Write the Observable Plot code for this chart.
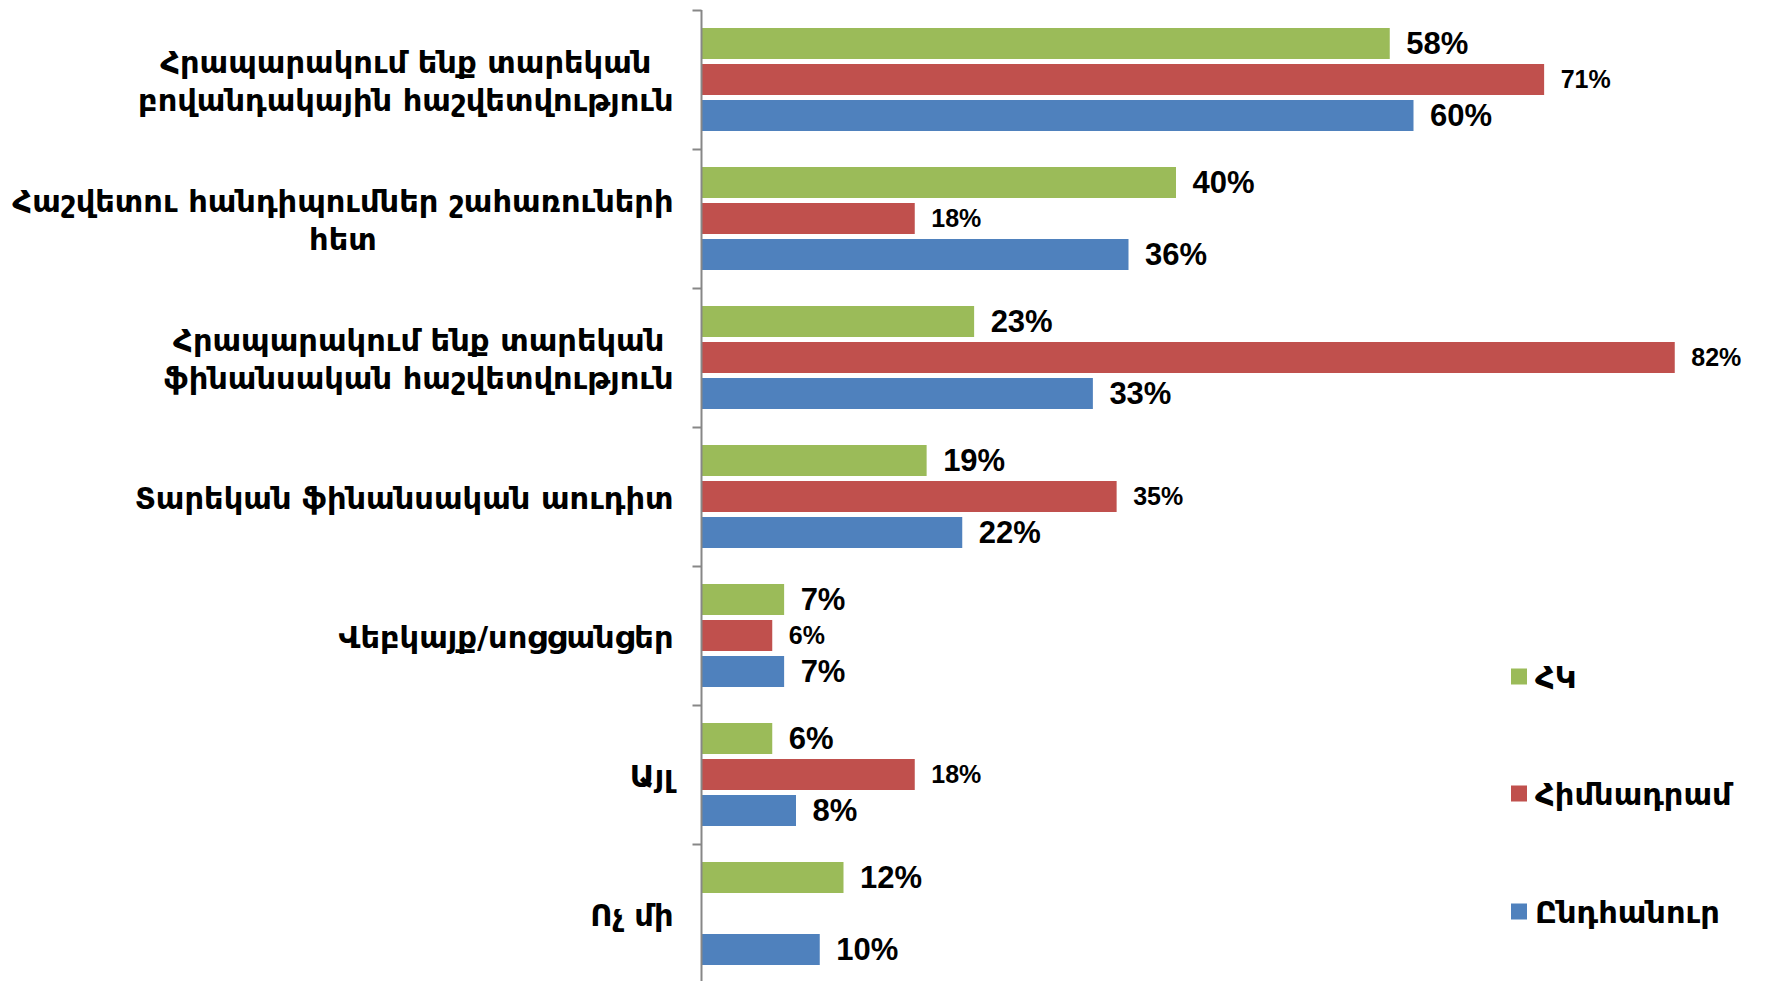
<!DOCTYPE html>
<html>
<head>
<meta charset="utf-8">
<script src="https://cdn.jsdelivr.net/npm/d3@7"></script>
<script src="https://cdn.jsdelivr.net/npm/@observablehq/plot@0.6"></script>
<style>
  html, body { margin: 0; padding: 0; background: #fff; overflow: hidden; }
  #wrap { position: relative; width: 1765px; height: 981px; overflow: hidden; }
  #legend { position: absolute; left: 1511px; top: 0; }
  .item { position: absolute; left: 0; display: flex; align-items: center; white-space: nowrap; transform: translateY(-50%); color: #000; }
  .sw { width: 16px; height: 16px; margin-right: 8px; flex: none; }
</style>
</head>
<body>
<div id="wrap"><div id="chart"></div><div id="legend"></div></div>
<script>
// ---- data ----
const categories = [
  "Հրապարակում ենք տարեկան\nբովանդակային հաշվետվություն",
  "Հաշվետու հանդիպումներ շահառուների\nհետ",
  "Հրապարակում ենք տարեկան\nֆինանսական հաշվետվություն",
  "Տարեկան ֆինանսական աուդիտ",
  "Վեբկայք/սոցցանցեր",
  "Այլ",
  "Ոչ մի"
];
const seriesNames = ["ՀԿ", "Հիմնադրամ", "Ընդհանուր"];
const hkValues = [58, 40, 23, 19, 7, 6, 12];
const foundationValues = [71, 18, 82, 35, 6, 18, null];
const totalValues = [60, 36, 33, 22, 7, 8, 10];
const seriesColors = ["#9BBB59", "#C0504D", "#4F81BD"];

// ---- table ----
const valueSets = [hkValues, foundationValues, totalValues];
const rows = [];
categories.forEach((c, i) => {
  seriesNames.forEach((s, j) => {
    const v = valueSets[j][i];
    if (v != null) rows.push({category: c, series: s, value: v});
  });
});

const labelFamily = '"DejaVu Sans", "Noto Sans", sans-serif';
const numFamily = '"Liberation Sans", Arial, sans-serif';
const labelSize = 30.5;

const cv = document.createElement("canvas").getContext("2d");
cv.font = `bold ${labelSize}px ${labelFamily}`;
const blockWidth = (t) => Math.max(...t.split("\n").map(l => cv.measureText(l).width));

const tickSymbol = { draw(ctx) { ctx.moveTo(-9, 0); ctx.lineTo(0, 0); } };

const labelMarks = categories.map(c => Plot.text([c], {
  fy: d => d,
  frameAnchor: "left",
  text: d => d,
  textAnchor: "middle",
  dx: -(28 + blockWidth(c) / 2),
  fontSize: labelSize,
  fontWeight: "bold",
  fontFamily: labelFamily,
  lineHeight: 37.2 / labelSize,
  fill: "#000"
}));

const chart = Plot.plot({
  width: 1765,
  height: 985,
  marginTop: 8,
  marginBottom: 0,
  marginLeft: 701,
  marginRight: 19,
  style: { background: "#fff", overflow: "visible" },
  x: { domain: [0, 88], axis: null },
  y: { domain: seriesNames, paddingInner: 0.151, paddingOuter: 0.457, axis: null },
  fy: { domain: categories, padding: 0, axis: null },
  color: { domain: seriesNames, range: seriesColors },
  marks: [
    Plot.barX(rows, { fy: "category", y: "series", x: "value", fill: "series" }),
    Plot.text(rows.filter(d => d.series !== seriesNames[1]), {
      fy: "category", y: "series", x: "value", text: d => d.value + "%",
      textAnchor: "start", dx: 16, fontSize: 31, fontWeight: "bold", fontFamily: numFamily, fill: "#000"
    }),
    Plot.text(rows.filter(d => d.series === seriesNames[1]), {
      fy: "category", y: "series", x: "value", text: d => d.value + "%",
      textAnchor: "start", dx: 16, fontSize: 25, fontWeight: "bold", fontFamily: numFamily, fill: "#000"
    }),
    Plot.ruleX([0], { stroke: "#878787", strokeWidth: 2 }),
    Plot.dot(categories, { fy: d => d, frameAnchor: "top-left", symbol: tickSymbol, stroke: "#878787", strokeWidth: 2, fill: "none" }),
    ...labelMarks
  ]
});
document.getElementById("chart").appendChild(chart);

// legend
const legendY = [676.5, 793.5, 911.7];
const legend = document.getElementById("legend");
seriesNames.forEach((s, j) => {
  const it = document.createElement("div");
  it.className = "item";
  it.style.top = legendY[j] + "px";
  it.style.font = `bold ${labelSize}px ${labelFamily}`;
  it.innerHTML = `<span class="sw" style="background:${seriesColors[j]}"></span><span>${s}</span>`;
  legend.appendChild(it);
});
</script>
</body>
</html>
